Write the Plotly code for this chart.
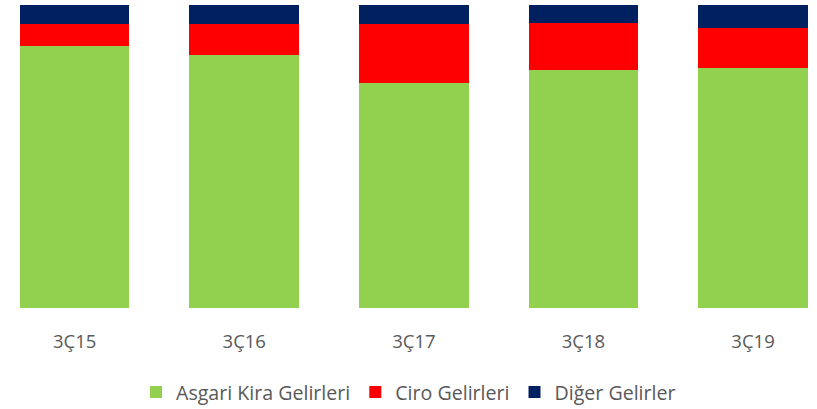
import plotly.graph_objects as go

categories = ["3Ç15", "3Ç16", "3Ç17", "3Ç18", "3Ç19"]
asgari = [86.5, 83.5, 74.2, 78.4, 79.3]
ciro = [7.3, 10.2, 19.5, 15.5, 13.0]
diger = [6.3, 6.3, 6.3, 6.0, 7.7]

series = [
    ("Asgari Kira Gelirleri", asgari, "#92D050"),
    ("Ciro Gelirleri", ciro, "#FF0000"),
    ("Diğer Gelirler", diger, "#002060"),
]

FONT = "Open Sans"
TXT = "#595959"

fig = go.Figure()
for name, vals, color in series:
    fig.add_trace(go.Bar(
        x=categories, y=vals, name=name,
        marker=dict(color=color, line=dict(width=0)),
    ))

fig.update_layout(
    barmode="stack",
    barnorm="percent",
    bargap=0.354,
    width=817, height=409,
    margin=dict(l=0, r=0, t=5, b=101, autoexpand=False),
    paper_bgcolor="white", plot_bgcolor="white",
    font=dict(family=FONT, color=TXT, size=18),
    showlegend=True,
    legend=dict(
        orientation="h", x=0.5, xanchor="center",
        y=-0.278, yanchor="middle",
        font=dict(family=FONT, size=19.6, color=TXT),
        traceorder="normal",
        itemwidth=30,
    ),
    xaxis=dict(
        type="category",
        range=[-0.440, 4.377],
        showgrid=False, zeroline=False, showline=False,
        ticks="", ticklabelstandoff=20,
        tickfont=dict(family=FONT, size=18.5, color=TXT),
    ),
    yaxis=dict(
        range=[0, 100], visible=False, showgrid=False, zeroline=False,
    ),
)

fig.write_html(
    "out.html",
    config={"displayModeBar": False},
    post_script="document.body.style.margin='0';document.body.style.padding='0';",
)
